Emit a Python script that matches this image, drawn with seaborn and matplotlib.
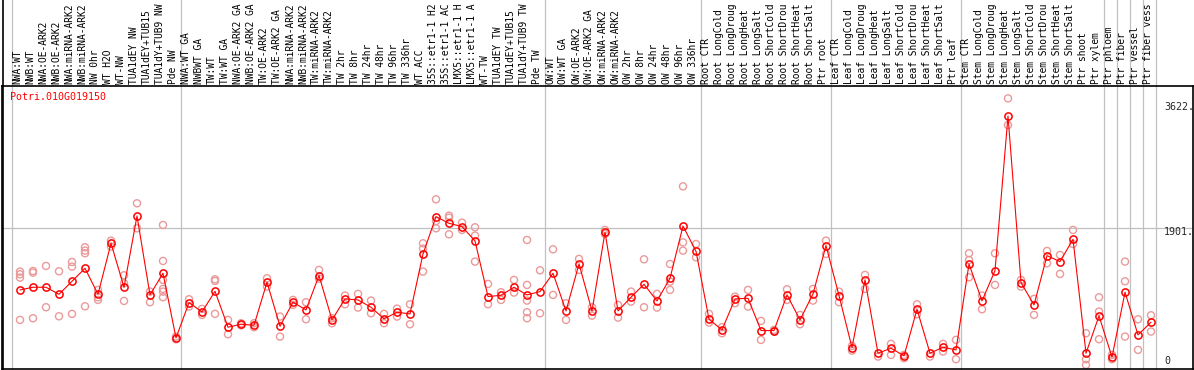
import numpy as np
import pandas as pd
import matplotlib
matplotlib.use("Agg")
import matplotlib.pyplot as plt
import matplotlib.transforms as mtransforms
from matplotlib.lines import Line2D
import seaborn as sns

gene = "Potri.010G019150"

samples = [
    "NWA:WT", "NWB:WT", "NWA:OE-ARK2", "NWB:OE-ARK2", "NWA:miRNA-ARK2", "NWB:miRNA-ARK2",
    "NW 0hr", "WT H2O", "WT-NW", "TUA1dEY NW", "TUA1dEY+TUB15", "TUA1dY+TUB9 NW", "Pde NW",
    "NWA:WT GA", "NWBWT GA", "TW:WT", "TW:WT GA", "NWA:OE-ARK2 GA", "NWB:OE-ARK2 GA",
    "TW:OE-ARK2", "TW:OE-ARK2 GA", "NWA:miRNA-ARK2", "NWB:miRNA-ARK2", "TW:miRNA-ARK2",
    "TW:miRNA-ARK2", "TW 2hr", "TW 8hr", "TW 24hr", "TW 48hr", "TW 96hr", "TW 336hr",
    "WT ACC", "35S::etr1-1 H2", "35S::etr1-1 AC", "LMX5::etr1-1 H", "LMX5::etr1-1 A",
    "WT-TW", "TUA1dEY TW", "TUA1dEY+TUB15", "TUA1dY+TUB9 TW", "Pde TW",
    "OW:WT", "OW:WT GA", "OW:OE-ARK2", "OW:OE-ARK2 GA", "OW:miRNA-ARK2", "OW:miRNA-ARK2",
    "OW 2hr", "OW 8hr", "OW 24hr", "OW 48hr", "OW 96hr", "OW 336hr",
    "Root CTR", "Root LongCold", "Root LongDroug", "Root LongHeat", "Root LongSalt",
    "Root ShortCold", "Root ShortDrou", "Root ShortHeat", "Root ShortSalt", "Ptr root",
    "Leaf CTR", "Leaf LongCold", "Leaf LongDroug", "Leaf LongHeat", "Leaf LongSalt",
    "Leaf ShortCold", "Leaf ShortDrou", "Leaf ShortHeat", "Leaf ShortSalt", "Ptr leaf",
    "Stem CTR", "Stem LongCold", "Stem LongDroug", "Stem LongHeat", "Stem LongSalt",
    "Stem ShortCold", "Stem ShortDrou", "Stem ShortHeat", "Stem ShortSalt", "Ptr shoot",
    "Ptr xylem", "Ptr phloem", "Ptr fiber", "Ptr vessel", "Ptr fiber vess",
]

# mean expression per sample
mean_expr = [
    1049, 1086, 1086, 989, 1168, 1348, 989, 1693, 1086, 2070, 980, 1279, 386,
    874, 745, 1030, 534, 575, 561, 1155, 547, 879, 773, 1247, 635, 925, 911, 810,
    649, 741, 718, 1546, 2061, 1969, 1923, 1725, 957, 975, 1086, 980, 1026,
    1279, 759, 1408, 759, 1845, 759, 948, 1127, 897, 1210, 1931, 1582,
    644, 497, 925, 934, 488, 488, 980, 635, 994, 1661,
    971, 253, 1187, 175, 244, 138, 782, 175, 258, 221,
    1408, 897, 1316, 3450, 1150, 842, 1522, 1440, 1748, 175,
    690, 120, 1017, 428, 603,
]

# individual replicates per sample
replicates = [
    [1302, 1265, 1219, 635], [1311, 1288, 658], [1380, 810], [1306, 685],
    [1435, 1371, 718], [1638, 1592, 1555, 823], [1049, 948, 911], [1730, 1647],
    [1251, 1141, 897], [2245, 1900], [1026, 879], [1946, 1449, 1187, 1063, 1026, 948],
    [405, 368],
    [920, 819], [787, 704], [1196, 1173, 718], [635, 437], [589, 561], [589, 534],
    [1210, 1095], [681, 405], [911, 842], [879, 644], [1325, 1205], [658, 589],
    [971, 851], [994, 805], [902, 727], [718, 589], [791, 681], [851, 575],
    [1693, 1619, 1302], [2300, 2001, 1900], [2075, 2047, 1817], [1978, 1877],
    [1914, 1799, 1440], [1132, 851], [1017, 911], [1187, 1012],
    [1739, 1118, 902, 741, 658], [1320, 727],
    [1610, 980], [865, 635], [1477, 1325], [810, 694], [1877, 1822], [842, 667],
    [1026, 887], [1472, 810], [994, 805], [1407, 1164, 1049], [2479, 1706, 1591],
    [1683, 1499],
    [718, 598], [534, 451], [957, 865], [1049, 819], [621, 359], [497, 474],
    [1058, 911], [704, 575], [1063, 902], [1730, 1546],
    [1026, 879], [276, 211], [1256, 1063], [129], [304, 152], [152, 106],
    [851, 713], [129], [304, 198], [359, 92],
    [1555, 1463, 1224], [971, 782], [1555, 1118], [3694, 3326], [1187, 1095],
    [925, 704], [1587, 1417], [1532, 1270], [1877, 1683], [451, 92, 14],
    [947, 750, 368], [152, 92], [1440, 1168, 405], [644, 221], [699, 474],
]

# last sample index of each block (block separators)
block_ends = [-1, 12, 40, 52, 62, 72, 83, 84, 85, 86, 87]
ytick_vals = [3622, 1901, 0]
ytick_text = ["3622.", "1901.", "0"]

W, H = 1194, 370
x = np.arange(len(samples))
rep_df = pd.DataFrame(
    [(i, v) for i, reps in enumerate(replicates) for v in reps],
    columns=["sample", "value"],
)

sns.set_style("white")
plt.rcParams["font.family"] = ["DejaVu Sans Mono", "DejaVu Sans"]

fig = plt.figure(figsize=(W / 100, H / 100), dpi=100)
ax = fig.add_axes([2 / W, 1 / H, 1191 / W, 283 / H])

# block separators run up through the label area
for b in block_ends:
    ax.axvline(b + 0.35, ymin=0, ymax=369 / 283, color="#c0c0c0", lw=0.9, clip_on=False, zorder=0)
ax.axhline(1901, color="#c0c0c0", lw=0.9, zorder=0)

sns.scatterplot(data=rep_df, x="sample", y="value", ax=ax, marker="o", s=26,
                facecolor="none", edgecolor="#eb9a9a", linewidth=1.0, zorder=2)
sns.lineplot(x=x, y=mean_expr, ax=ax, color="red", lw=0.8, marker="o", markersize=5.2,
             markerfacecolor="none", markeredgecolor="red", markeredgewidth=1.1, zorder=3)

ax.set_xlim(-1.385, 90.23)
ax.set_ylim(-43, 3865)
ax.set_xticks([])
ax.set_yticks([])
ax.set_xlabel("")
ax.set_ylabel("")
for s in ax.spines.values():
    s.set_color("black")
    s.set_linewidth(1.2)

# sample labels above the plot, sized so the longest still fits
for i, lab in enumerate(samples):
    ax.text(i - 0.22, 1.0 + 2 / 283, lab, transform=ax.get_xaxis_transform(),
            rotation=90, ha="center", va="bottom", fontsize=6.9, color="black",
            clip_on=False)

# left frame line reaches the top of the image
fig.add_artist(Line2D([2.5 / W, 2.5 / W], [0, 1], color="black", lw=1.2))

ax.text(8 / 1191, 1 - 10.7 / 283, gene, transform=ax.transAxes, color="red",
        fontsize=7.2, ha="left", va="center")

trans = ax.get_yaxis_transform()
for v, t in zip(ytick_vals, ytick_text):
    dy = -3.5 if v > 0 else 5
    tr = mtransforms.offset_copy(trans, fig=fig, y=dy, units="dots")
    ax.text((1164 - 2) / 1191, v, t, transform=tr, fontsize=7.2, ha="left", va="center")

fig.savefig("out.png", dpi=100)
